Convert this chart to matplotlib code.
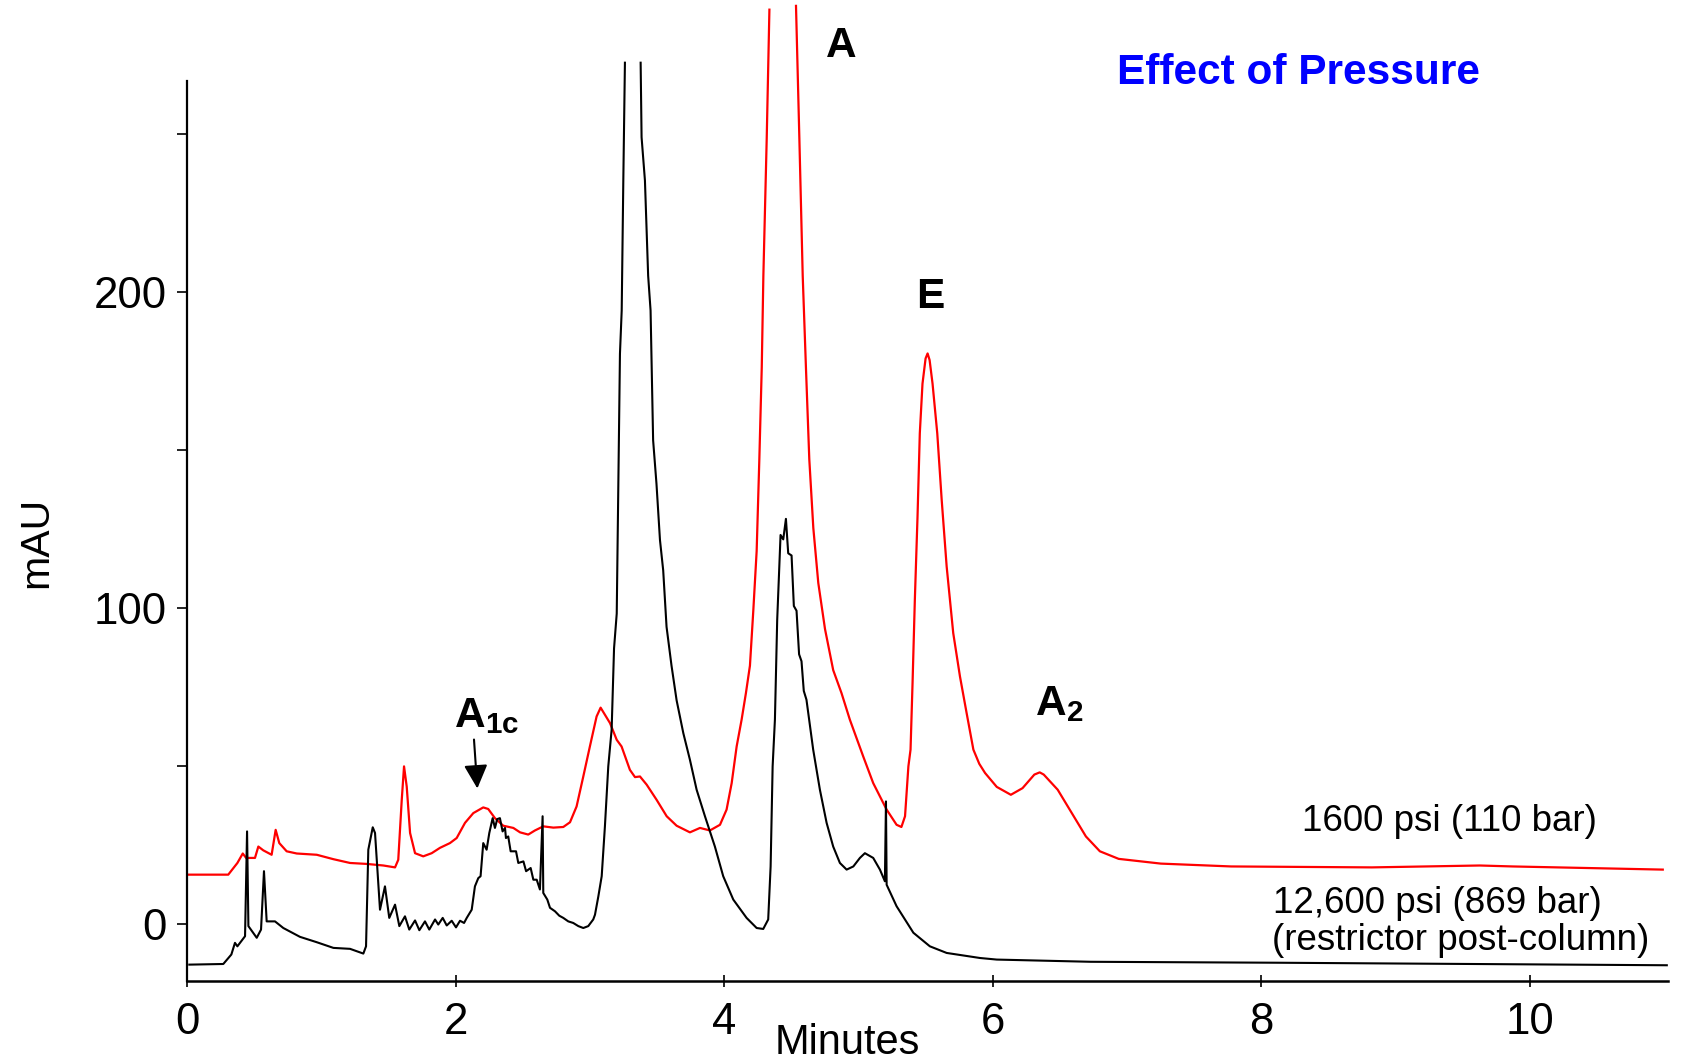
import numpy as np
import matplotlib.pyplot as plt

plt.rcParams['font.family'] = ['Liberation Sans', 'DejaVu Sans']
plt.rcParams['mathtext.fontset'] = 'custom'
plt.rcParams['mathtext.rm'] = 'Liberation Sans'
plt.rcParams['mathtext.bf'] = 'Liberation Sans:bold'

# 12,600 psi trace (black) (minutes, mAU)
# nan = where the trace leaves the top of the plot
t_high = [0.017, 0.27, 0.33, 0.357, 0.375, 0.432, 0.447, 0.457, 0.519, 0.551,
          0.573, 0.593, 0.655, 0.717, 0.841, 0.966, 1.09, 1.214, 1.313, 1.333,
          1.35, 1.383, 1.40, 1.437, 1.474, 1.506, 1.549, 1.581, 1.623, 1.655,
          1.698, 1.73, 1.772, 1.804, 1.847, 1.871, 1.904, 1.934, 1.971, 2.003,
          2.033, 2.063, 2.083, 2.12, 2.144, 2.169, 2.186, 2.206, 2.231, 2.251,
          2.276, 2.293, 2.31, 2.33, 2.35, 2.368, 2.375, 2.392, 2.41, 2.45,
          2.467, 2.505, 2.525, 2.559, 2.579, 2.604, 2.628, 2.648, 2.653, 2.683,
          2.703, 2.74, 2.772, 2.802, 2.839, 2.876, 2.914, 2.951, 2.988, 3.025,
          3.038, 3.063, 3.088, 3.112, 3.137, 3.162, 3.18, 3.2, 3.212, 3.224,
          3.237, 3.249, 3.261, 3.32, 3.378, 3.385, 3.41, 3.434, 3.452, 3.471,
          3.496, 3.522, 3.546, 3.571, 3.608, 3.646, 3.696, 3.745, 3.795, 3.857,
          3.931, 3.993, 4.068, 4.167, 4.242, 4.291, 4.328, 4.346, 4.361, 4.378,
          4.395, 4.42, 4.44, 4.46, 4.477, 4.502, 4.519, 4.539, 4.558, 4.576,
          4.593, 4.613, 4.663, 4.713, 4.763, 4.812, 4.862, 4.912, 4.962, 5.011,
          5.048, 5.11, 5.16, 5.197, 5.205, 5.21, 5.284, 5.409, 5.532, 5.657,
          5.905, 6.03, 6.73, 8.12, 9.52, 11.02]
mau_high = [-13.0, -12.8, -9.8, -6.1, -7.2, -4.0, 29.2, -0.8, -4.5, -1.9,
            16.6, 0.7, 0.7, -1.4, -4.2, -5.9, -7.7, -8.0, -9.5, -7.2,
            23.4, 30.5, 28.7, 4.4, 11.8, 1.8, 6.0, -0.8, 2.3, -1.9,
            1.0, -2.1, 0.7, -1.9, 1.3, -0.3, 1.8, -0.6, 0.9, -1.2,
            0.9, 0.2, 1.8, 4.4, 11.8, 14.4, 15.0, 25.5, 23.4, 28.7,
            33.4, 30.3, 33.1, 33.4, 29.2, 30.3, 27.1, 27.6, 22.9, 22.9,
            19.2, 19.7, 16.6, 17.6, 13.9, 13.9, 10.8, 34.0, 9.7, 7.6,
            5.0, 3.9, 2.5, 1.8, 0.7, 0.2, -0.8, -1.4, -0.8, 1.3,
            2.8, 8.6, 15.0, 30.8, 49.8, 61.4, 87.2, 98.2, 139.3, 180.5,
            194.2, 235.4, 272.7, np.nan, 272.7, 249.1, 235.4, 205.2, 194.2, 153.1,
            139.3, 121.5, 111.9, 94.0, 81.7, 70.7, 60.3, 51.9, 42.4, 34.0,
            24.4, 15.0, 7.6, 1.8, -1.4, -1.7, 1.3, 18.1, 49.8, 64.6,
            96.2, 123.1, 121.7, 128.2, 117.3, 116.6, 100.6, 99.1, 85.3, 83.1,
            73.7, 70.9, 55.1, 42.4, 31.9, 24.4, 19.2, 17.1, 18.1, 20.8,
            22.3, 20.8, 17.1, 13.4, 38.7, 12.3, 5.5, -2.9, -7.2, -9.3,
            -10.9, -11.4, -12.1, -12.4, -12.8, -13.2]

# 1600 psi trace (red)
t_low = [0.01, 0.307, 0.375, 0.415, 0.44, 0.506, 0.531, 0.568, 0.63, 0.66,
         0.687, 0.742, 0.817, 0.966, 1.09, 1.214, 1.338, 1.462, 1.549, 1.573,
         1.599, 1.616, 1.636, 1.661, 1.698, 1.759, 1.822, 1.884, 1.958, 2.008,
         2.07, 2.132, 2.206, 2.243, 2.293, 2.355, 2.43, 2.48, 2.541, 2.591,
         2.653, 2.728, 2.802, 2.852, 2.901, 2.951, 3.0, 3.05, 3.08, 3.15,
         3.2, 3.236, 3.298, 3.336, 3.373, 3.423, 3.497, 3.572, 3.646, 3.745,
         3.82, 3.894, 3.969, 4.018, 4.056, 4.093, 4.13, 4.162, 4.192, 4.217,
         4.242, 4.262, 4.28, 4.292, 4.317, 4.337, 4.44, 4.535, 4.56, 4.585,
         4.609, 4.634, 4.664, 4.701, 4.751, 4.812, 4.874, 4.936, 5.036, 5.11,
         5.21, 5.284, 5.32, 5.347, 5.372, 5.388, 5.403, 5.42, 5.44, 5.457,
         5.477, 5.50, 5.515, 5.53, 5.552, 5.587, 5.62, 5.657, 5.706, 5.756,
         5.806, 5.856, 5.90, 5.943, 6.03, 6.135, 6.222, 6.31, 6.35, 6.38,
         6.484, 6.589, 6.694, 6.798, 6.938, 7.252, 7.775, 8.824, 9.627, 9.871,
         10.99]
mau_low = [15.5, 15.5, 19.2, 22.2, 20.8, 20.8, 24.4, 23.2, 21.8, 29.7,
           25.5, 22.9, 22.2, 21.8, 20.4, 19.2, 18.9, 18.4, 17.8, 20.2,
           39.2, 49.8, 43.4, 28.7, 22.3, 21.3, 22.3, 24.0, 25.5, 27.1,
           31.9, 35.0, 36.8, 36.3, 33.4, 31.0, 30.3, 28.9, 28.2, 29.5,
           30.8, 30.4, 30.6, 32.1, 37.1, 46.6, 56.1, 65.6, 68.4, 63.5,
           58.2, 56.1, 48.7, 46.4, 46.6, 44.0, 39.2, 34.0, 31.0, 28.9,
           30.3, 29.5, 31.3, 36.1, 44.5, 56.1, 64.6, 73.0, 81.7, 99.1,
           118.0, 147.1, 176.2, 205.2, 248.8, 289.5, np.nan, 290.7, 248.8, 205.2,
           176.2, 147.1, 125.3, 107.9, 93.3, 80.3, 73.0, 64.6, 52.9, 44.5,
           36.1, 31.3, 30.6, 34.0, 49.8, 55.1, 76.2, 102.5, 128.9, 155.3,
           171.0, 179.0, 180.6, 178.5, 171.0, 155.3, 134.2, 113.1, 92.0, 78.3,
           66.6, 55.1, 50.6, 47.7, 43.3, 40.8, 42.9, 47.2, 47.9, 47.2,
           42.4, 35.0, 27.6, 22.9, 20.5, 19.0, 18.1, 17.8, 18.4, 18.1,
           17.1]

x_ticks = [0, 2, 4, 6, 8, 10]
y_ticks = [0, 100, 200]
y_minor = [50, 150, 250]

fig = plt.figure(figsize=(16.85, 10.63), dpi=100)
ax = fig.add_axes([0.111, 0.0771, 0.879, 0.8467])

ax.plot(t_low, mau_low, color='#ff0000', lw=1.6, clip_on=False)
ax.plot(t_high, mau_high, color='black', lw=1.5, clip_on=False)

ax.set_xlim(0, 11.03)
ax.set_ylim(-18.2, 266.9)

ax.spines['top'].set_visible(False)
ax.spines['right'].set_visible(False)
ax.spines['left'].set_linewidth(1.6)
ax.spines['bottom'].set_linewidth(1.8)

ax.set_xticks(x_ticks)
ax.set_yticks(y_ticks)
ax.set_yticks(y_minor, minor=True)
ax.tick_params(axis='x', direction='inout', length=8, width=1.2, pad=11, labelsize=31.5)
ax.tick_params(axis='y', which='both', direction='out', length=7, width=1.2, pad=7.5, labelsize=31.5)

ax.set_xlabel('Minutes', fontsize=30)
ax.xaxis.set_label_coords(0.4457, -0.047)
ax.set_ylabel('mAU', fontsize=29.5)
ax.yaxis.set_label_coords(-0.089, 0.487)

# peak labels
ax.text(4.872, 274.6, 'A', fontsize=30.5, fontweight='bold', ha='center', va='baseline')
ax.text(5.536, 194.9, 'E', fontsize=30.5, fontweight='bold', ha='center', va='baseline')
ax.text(6.314, 66.0, r'$\mathbf{A_2}$', fontsize=30.5, ha='left', va='baseline')
ax.text(1.988, 62.3, r'$\mathbf{A_{1c}}$', fontsize=30.5, ha='left', va='baseline')
ax.annotate('', xy=(2.162, 42.8), xytext=(2.137, 58.3),
            arrowprops=dict(arrowstyle='-|>,head_length=0.4,head_width=0.2',
                            color='black', lw=1.5, mutation_scale=36,
                            shrinkA=0, shrinkB=0))

# trace labels
ax.text(8.30, 29.4, '1600 psi (110 bar)', fontsize=26.5, ha='left', va='baseline')
ax.text(8.09, 3.2, '12,600 psi (869 bar)', fontsize=26.5, ha='left', va='baseline')
ax.text(8.083, -8.4, '(restrictor post-column)', fontsize=26.5, ha='left', va='baseline')

ax.text(6.929, 266.0, 'Effect of Pressure', fontsize=30.5, fontweight='bold',
        color='#0000ff', ha='left', va='baseline')

plt.savefig('out.png', dpi=100)
